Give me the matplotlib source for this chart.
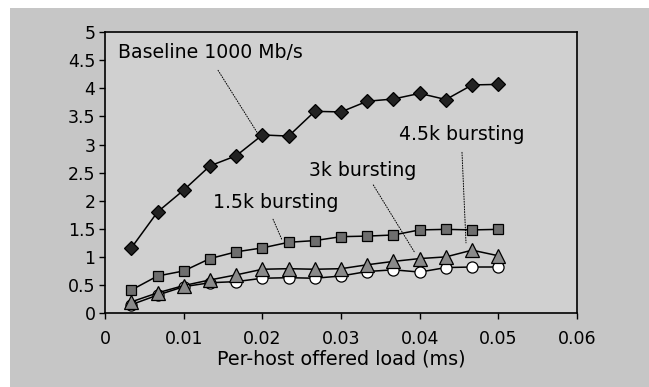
import numpy as np
import matplotlib
matplotlib.use("Agg")
import matplotlib.pyplot as plt
from matplotlib.patches import Rectangle

# ── Data ──────────────────────────────────────────────────────
load = [i / 300 for i in range(1, 16)]  # per-host offered load (ms)

baseline = [1.16, 1.80, 2.19, 2.62, 2.80, 3.17, 3.15, 3.59, 3.58, 3.77,
            3.81, 3.91, 3.80, 4.06, 4.07]
burst_15k = [0.41, 0.66, 0.75, 0.97, 1.09, 1.16, 1.26, 1.29, 1.36, 1.37,
             1.39, 1.48, 1.49, 1.48, 1.49]
burst_3k = [0.20, 0.36, 0.49, 0.59, 0.68, 0.78, 0.79, 0.78, 0.79, 0.86,
            0.92, 0.97, 1.00, 1.12, 1.02]
burst_45k = [0.15, 0.32, 0.47, 0.54, 0.56, 0.62, 0.63, 0.62, 0.66, 0.74,
             0.77, 0.73, 0.81, 0.82, 0.82]

x_ticks = [0, 0.01, 0.02, 0.03, 0.04, 0.05, 0.06]
x_ticklabels = ["0", "0.01", "0.02", "0.03", "0.04", "0.05", "0.06"]
y_ticks = [0, 0.5, 1, 1.5, 2, 2.5, 3, 3.5, 4, 4.5, 5]
y_ticklabels = ["0", "0.5", "1", "1.5", "2", "2.5", "3", "3.5", "4", "4.5", "5"]

plt.rcParams["font.family"] = ["DejaVu Sans"]

# ── Figure ────────────────────────────────────────────────────
fig = plt.figure(figsize=(6.49, 3.87), dpi=100, facecolor="white")
fig.patches.append(Rectangle((10 / 649, 0), 1, 1 - 8 / 387,
                             transform=fig.transFigure, facecolor="#c6c6c6",
                             edgecolor="none", zorder=-10))

ax = fig.add_axes([0.162, 0.191, 0.727, 0.726])
ax.set_facecolor("#d0d0d0")

line_kw = dict(color="black", linewidth=1.1, markeredgecolor="black",
               markeredgewidth=0.9)
ax.plot(load, burst_45k, marker="o", markersize=8, markerfacecolor="white",
        **line_kw)
ax.plot(load, burst_3k, marker="^", markersize=10, markerfacecolor="#8a8a8a",
        **line_kw)
ax.plot(load, burst_15k, marker="s", markersize=6.5, markerfacecolor="#6e6e6e",
        **line_kw)
ax.plot(load, baseline, marker="D", markersize=7, markerfacecolor="#222222",
        **line_kw)

ax.set_xlim(0, 0.06)
ax.set_ylim(0, 5)
ax.set_xticks(x_ticks)
ax.set_xticklabels(x_ticklabels)
ax.set_yticks(y_ticks)
ax.set_yticklabels(y_ticklabels)
ax.tick_params(axis="both", direction="out", length=4, width=1,
               labelsize=12.5)
ax.tick_params(axis="x", pad=8)
ax.tick_params(axis="y", pad=3)
for s in ax.spines.values():
    s.set_linewidth(1.2)

ax.set_xlabel("Per-host offered load (ms)", fontsize=13.8, labelpad=1)

# ── Callouts ──────────────────────────────────────────────────
arrow = dict(arrowstyle="-", color="black", linewidth=0.7, linestyle=":",
             shrinkA=0, shrinkB=0)
callouts = [
    ("Baseline 1000 Mb/s", (0.00165, 4.63), (0.01436, 4.32), (0.0193, 3.22)),
    ("1.5k bursting", (0.01373, 1.96), (0.02135, 1.67), (0.0225, 1.30)),
    ("3k bursting", (0.0259, 2.54), (0.0341, 2.28), (0.0394, 1.07)),
    ("4.5k bursting", (0.03737, 3.17), (0.04538, 2.86), (0.04589, 1.25)),
]
for label, txt_pos, start, end in callouts:
    ax.text(txt_pos[0], txt_pos[1], label, fontsize=13.6, ha="left",
            va="center")
    ax.annotate("", xy=end, xytext=start, arrowprops=arrow)

plt.savefig("out.png", dpi=100, facecolor=fig.get_facecolor())
